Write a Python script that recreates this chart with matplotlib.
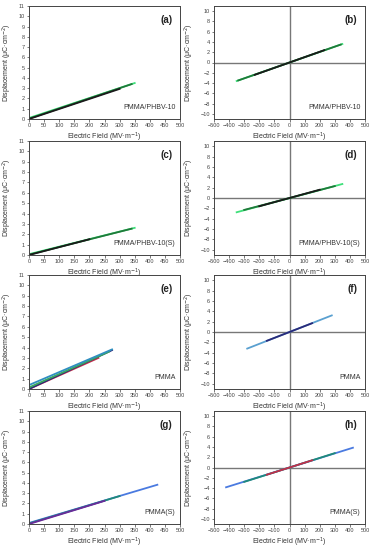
import matplotlib
matplotlib.use("Agg")
import matplotlib.pyplot as plt

plt.rcParams['font.family'] = ['Liberation Sans', 'DejaVu Sans']

# panel letters and sample names
panel_tags = ['(a)', '(b)', '(c)', '(d)', '(e)', '(f)', '(g)', '(h)']
sample_names = ['PMMA/PHBV-10', 'PMMA/PHBV-10', 'PMMA/PHBV-10(S)', 'PMMA/PHBV-10(S)',
                'PMMA', 'PMMA', 'PMMA(S)', 'PMMA(S)']

# curves for each panel: (x points, y points, colour)
curves_a = [([0, 350], [0.1, 3.5], '#3ee07a'),
            ([0, 340], [0.03, 3.4], '#1f7a3a'),
            ([0, 300], [0.0, 2.93], '#1a1a1a')]
curves_b = [([-350, 350], [-3.6, 3.6], '#3ee07a'),
            ([-340, 340], [-3.5, 3.5], '#1f7a3a'),
            ([-230, 230], [-2.4, 2.4], '#1a1a1a')]
curves_c = [([0, 350], [0.08, 2.62], '#3ee07a'),
            ([0, 340], [0.03, 2.54], '#1f7a3a'),
            ([0, 200], [0.0, 1.52], '#1a1a1a')]
curves_d = [([-350, 350], [-2.75, 2.7], '#3ee07a'),
            ([-300, 300], [-2.3, 2.3], '#1f7a3a'),
            ([-200, 200], [-1.6, 1.6], '#1a1a1a')]
curves_e = [([0, 230], [0.0, 3.0], '#c0304a'),
            ([0, 275], [0.0, 3.75], '#2a2a7a'),
            ([0, 265], [0.15, 3.6], '#3aa860'),
            ([0, 275], [0.38, 3.82], '#2f8fc0')]
curves_f = [([-280, 280], [-3.2, 3.2], '#5aa0d0'),
            ([-150, 150], [-1.7, 1.7], '#2a2a7a')]
curves_g = [([0, 425], [0.1, 3.82], '#4a7ae0'),
            ([0, 300], [0.05, 2.72], '#1f8a7a'),
            ([0, 250], [0.0, 2.25], '#6a2a9a')]
curves_h = [([-420, 420], [-3.85, 3.85], '#4a7ae0'),
            ([-300, 300], [-2.8, 2.8], '#1f8a7a'),
            ([-150, 150], [-1.4, 1.4], '#c0304a')]
all_curves = [curves_a, curves_b, curves_c, curves_d, curves_e, curves_f, curves_g, curves_h]

W, H = 373, 550
fig = plt.figure(figsize=(W / 100, H / 100), dpi=100)

rows = [(6, 119), (141, 255), (275, 389), (411, 524)]
cols = [(29, 180), (214, 365)]

dark = '#444444'
for i in range(8):
    r, c = i // 2, i % 2
    top, bot = rows[r]
    lft, rgt = cols[c]
    ax = fig.add_axes([lft / W, 1 - bot / H, (rgt - lft) / W, (bot - top) / H])
    for xs, ys, col in all_curves[i]:
        ax.plot(xs, ys, color=col, lw=1.3)
    if c == 0:
        ax.set_xlim(0, 500)
        ax.set_ylim(0, 11)
        ax.set_xticks(range(0, 501, 50))
        ax.set_yticks(range(0, 12))
    else:
        ax.set_xlim(-500, 500)
        ax.set_ylim(-11, 11)
        ax.set_xticks(range(-500, 501, 100))
        ax.set_yticks(range(-10, 11, 2))
        ax.axhline(0, color='#777777', lw=1.0, zorder=0)
        ax.axvline(0, color='#777777', lw=1.0, zorder=0)
    for sp in ax.spines.values():
        sp.set_color(dark)
        sp.set_linewidth(0.7)
    ax.tick_params(labelsize=4.0, length=1.8, width=0.5, pad=1.2, colors='#444444')
    ax.set_xlabel('Electric Field (MV·m$^{-1}$)', fontsize=5.0, labelpad=2, color='#333333')
    ax.set_ylabel('Displacement (μC·cm$^{-2}$)', fontsize=5.0, labelpad=3, color='#333333')
    ax.text(0.95, 0.88, panel_tags[i], transform=ax.transAxes, ha='right', va='center',
            fontsize=7, fontweight='bold', color='#222222')
    ax.text(0.97, 0.1, sample_names[i], transform=ax.transAxes, ha='right', va='center',
            fontsize=5, color='#333333')

fig.savefig('out.png', dpi=100)
